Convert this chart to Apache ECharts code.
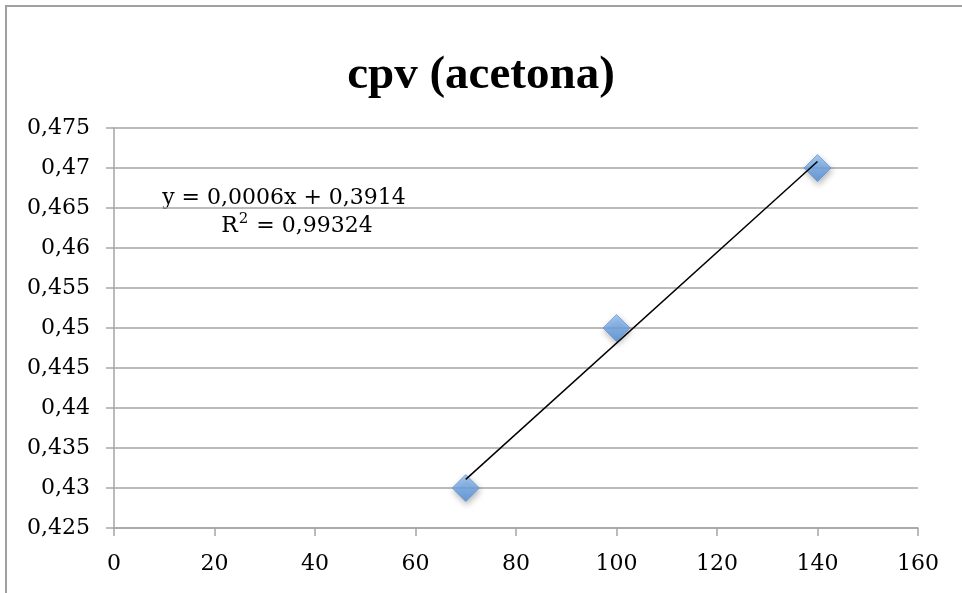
<!DOCTYPE html>
<html>
<head>
<meta charset="utf-8">
<script src="https://cdn.jsdelivr.net/npm/echarts@6/dist/echarts.min.js"></script>
<style>
  html, body { margin: 0; padding: 0; background: #ffffff; }
  #chart { width: 962px; height: 593px; }
</style>
</head>
<body>
<div id="chart"></div>
<script>
// Measured specific heat of acetone vapour against temperature
const temperatures = [70, 100, 140];
const cpValues = [0.43, 0.45, 0.47];

// Axis tick labels (comma decimal separator)
const xTickLabels = ['0', '20', '40', '60', '80', '100', '120', '140', '160'];
const yTickLabels = ['0,425', '0,43', '0,435', '0,44', '0,445', '0,45', '0,455', '0,46', '0,465', '0,47', '0,475'];

const chartTitle = 'cpv (acetona)';

// Least-squares linear trendline through the measurements
function linearFit(xs, ys) {
  const n = xs.length;
  const mx = xs.reduce((a, b) => a + b, 0) / n;
  const my = ys.reduce((a, b) => a + b, 0) / n;
  let sxy = 0, sxx = 0, syy = 0;
  for (let i = 0; i < n; i++) {
    sxy += (xs[i] - mx) * (ys[i] - my);
    sxx += (xs[i] - mx) * (xs[i] - mx);
    syy += (ys[i] - my) * (ys[i] - my);
  }
  const slope = sxy / sxx;
  const intercept = my - slope * mx;
  let ssRes = 0;
  for (let i = 0; i < n; i++) {
    const r = ys[i] - (slope * xs[i] + intercept);
    ssRes += r * r;
  }
  return { slope, intercept, r2: 1 - ssRes / syy };
}

const fit = linearFit(temperatures, cpValues);
const xFirst = Math.min(...temperatures);
const xLast = Math.max(...temperatures);
const trendData = [
  [xFirst, fit.slope * xFirst + fit.intercept],
  [xLast, fit.slope * xLast + fit.intercept]
];

const comma = s => s.replace('.', ',');
const equationText = 'y = ' + comma(fit.slope.toFixed(4)) + 'x + ' + comma(fit.intercept.toFixed(4));
const r2Value = comma(fit.r2.toFixed(5));

const xMin = 0, xMax = 160, xStep = 20;
const yMin = 0.425, yMax = 0.475, yStep = 0.005;

const labelFont = 'DejaVu Serif';
const labelSize = 22;
const gridColor = '#a5a5a5';

const chart = echarts.init(document.getElementById('chart'), null, { renderer: 'canvas' });

chart.setOption({
  backgroundColor: '#ffffff',
  animation: false,
  title: {
    text: chartTitle,
    left: 'center',
    top: 47,
    textStyle: {
      fontFamily: 'Liberation Serif',
      fontWeight: 'bold',
      fontSize: 47,
      color: '#000000'
    }
  },
  grid: { left: 114, right: 44, top: 128, bottom: 65, containLabel: false },
  xAxis: {
    type: 'value',
    min: xMin,
    max: xMax,
    interval: xStep,
    axisLine: { show: true, onZero: false, lineStyle: { color: gridColor, width: 1.5 } },
    axisTick: { show: true, inside: false, length: 8, lineStyle: { color: gridColor, width: 1.5 } },
    splitLine: { show: false },
    axisLabel: {
      margin: 25,
      fontFamily: labelFont,
      fontSize: labelSize,
      color: '#000000',
      formatter: v => xTickLabels[Math.round((v - xMin) / xStep)]
    }
  },
  yAxis: {
    type: 'value',
    min: yMin,
    max: yMax,
    interval: yStep,
    axisLine: { show: true, onZero: false, lineStyle: { color: gridColor, width: 1.5 } },
    axisTick: { show: true, inside: false, length: 8, lineStyle: { color: gridColor, width: 1.5 } },
    splitLine: { show: true, lineStyle: { color: gridColor, width: 1.5 } },
    axisLabel: {
      margin: 24,
      fontFamily: labelFont,
      fontSize: labelSize,
      color: '#000000',
      verticalAlign: 'middle',
      padding: [9, 0, 0, 0],
      formatter: v => yTickLabels[Math.round((v - yMin) / yStep)]
    }
  },
  series: [
    {
      name: 'cpv',
      type: 'scatter',
      data: temperatures.map((t, i) => [t, cpValues[i]]),
      symbol: 'diamond',
      symbolSize: 27,
      z: 2,
      itemStyle: {
        color: new echarts.graphic.LinearGradient(0, 0, 0, 1, [
          { offset: 0, color: '#93c0f3' },
          { offset: 1, color: '#4f8edc' }
        ]),
        borderColor: '#558ad0',
        borderWidth: 0.8,
        shadowBlur: 6,
        shadowColor: 'rgba(0,0,0,0.35)',
        shadowOffsetX: 1,
        shadowOffsetY: 3
      }
    },
    {
      name: 'trend',
      type: 'line',
      data: trendData,
      symbol: 'none',
      z: 3,
      lineStyle: { color: '#000000', width: 1.5 }
    }
  ],
  graphic: [
    {
      type: 'rect',
      z: -1,
      shape: { x: 6, y: 6, width: 1200, height: 1200 },
      style: { fill: 'none', stroke: '#a0a0a0', lineWidth: 2 }
    },
    {
      type: 'text',
      x: 284,
      y: 198,
      style: {
        text: equationText,
        font: labelSize + 'px "DejaVu Serif"',
        fill: '#000000',
        align: 'center',
        verticalAlign: 'middle'
      }
    },
    {
      type: 'text',
      x: 297,
      y: 226,
      style: {
        text: 'R{sup|2} = ' + r2Value,
        font: labelSize + 'px "DejaVu Serif"',
        fill: '#000000',
        align: 'center',
        verticalAlign: 'middle',
        rich: {
          sup: {
            fontFamily: 'DejaVu Serif',
            fontSize: 15,
            padding: [0, 1, 14, 1]
          }
        }
      }
    }
  ]
});
</script>
</body>
</html>
